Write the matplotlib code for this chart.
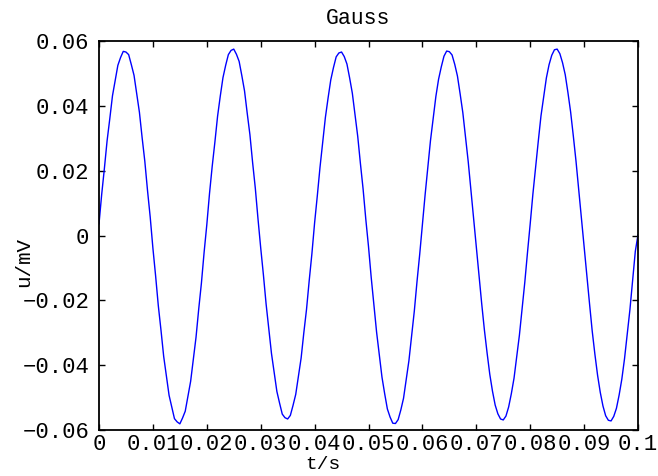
import numpy as np
import matplotlib
matplotlib.use("Agg")
import matplotlib.pyplot as plt

t_start = 0.0
t_step = 0.0005
u = [
    0.0036, 0.0127, 0.0207, 0.0292, 0.0360, 0.0431, 0.0479, 0.0525, 0.0549, 0.0568,
    0.0566, 0.0558, 0.0527, 0.0494, 0.0436, 0.0380, 0.0302, 0.0229, 0.0139, 0.0057,
    -0.0039, -0.0124, -0.0216, -0.0292, -0.0373, -0.0432, -0.0493, -0.0529, -0.0565, -0.0575,
    -0.0581, -0.0563, -0.0542, -0.0496, -0.0450, -0.0381, -0.0314, -0.0227, -0.0147, -0.0052,
    0.0033, 0.0129, 0.0213, 0.0288, 0.0368, 0.0430, 0.0487, 0.0525, 0.0558, 0.0571,
    0.0575, 0.0559, 0.0537, 0.0493, 0.0446, 0.0377, 0.0311, 0.0225, 0.0146, 0.0051,
    -0.0038, -0.0121, -0.0211, -0.0286, -0.0364, -0.0422, -0.0481, -0.0517, -0.0551, -0.0562,
    -0.0566, -0.0555, -0.0524, -0.0490, -0.0434, -0.0378, -0.0300, -0.0228, -0.0139, -0.0056,
    0.0039, 0.0122, 0.0210, 0.0286, 0.0364, 0.0424, 0.0480, 0.0518, 0.0551, 0.0563,
    0.0566, 0.0552, 0.0529, 0.0486, 0.0439, 0.0372, 0.0306, 0.0222, 0.0143, 0.0050,
    -0.0034, -0.0129, -0.0212, -0.0298, -0.0368, -0.0437, -0.0488, -0.0535, -0.0560, -0.0579,
    -0.0580, -0.0568, -0.0538, -0.0502, -0.0445, -0.0386, -0.0309, -0.0233, -0.0142, -0.0058,
    0.0035, 0.0125, 0.0208, 0.0293, 0.0361, 0.0429, 0.0482, 0.0520, 0.0553, 0.0569,
    0.0567, 0.0557, 0.0528, 0.0492, 0.0437, 0.0379, 0.0303, 0.0228, 0.0140, 0.0055,
    -0.0037, -0.0123, -0.0210, -0.0291, -0.0362, -0.0428, -0.0480, -0.0523, -0.0550, -0.0566,
    -0.0569, -0.0557, -0.0529, -0.0488, -0.0440, -0.0374, -0.0307, -0.0224, -0.0144, -0.0052,
    0.0036, 0.0128, 0.0211, 0.0291, 0.0369, 0.0428, 0.0486, 0.0527, 0.0556, 0.0573,
    0.0575, 0.0561, 0.0533, 0.0496, 0.0441, 0.0381, 0.0307, 0.0229, 0.0141, 0.0053,
    -0.0035, -0.0126, -0.0209, -0.0294, -0.0366, -0.0431, -0.0484, -0.0526, -0.0556, -0.0570,
    -0.0572, -0.0558, -0.0533, -0.0492, -0.0443, -0.0380, -0.0304, -0.0229, -0.0139, -0.0049,
    0.0002,
]
t = t_start + t_step * np.arange(len(u))

xticks = [0, 0.01, 0.02, 0.03, 0.04, 0.05, 0.06, 0.07, 0.08, 0.09, 0.1]
xtick_labels = ["0", "0.01", "0.02", "0.03", "0.04", "0.05", "0.06", "0.07", "0.08", "0.09", "0.1"]
yticks = [-0.06, -0.04, -0.02, 0, 0.02, 0.04, 0.06]
ytick_labels = ["\u22120.06", "\u22120.04", "\u22120.02", "0", "0.02", "0.04", "0.06"]

plt.rcParams["font.family"] = ["Liberation Mono", "DejaVu Sans Mono"]

fig = plt.figure(figsize=(6.58, 4.76), dpi=100)
ax = fig.add_axes([99 / 658, 1 - 430 / 476, 539 / 658, 389 / 476])

ax.plot(t, u, color="#0000ff", linewidth=1.0)

ax.set_xlim(0, 0.1)
ax.set_ylim(-0.06, 0.06)
ax.set_xticks(xticks)
ax.set_xticklabels(xtick_labels)
ax.set_yticks(yticks)
ax.set_yticklabels(ytick_labels)
ax.tick_params(direction="in", length=4, width=1, top=True, right=True,
               labelsize=16, pad=3, colors="black")
ax.tick_params(axis="y", pad=7)
for s in ax.spines.values():
    s.set_linewidth(1.3)

# label spots (slightly off-centre)
ax.set_xlabel("t/s", fontsize=14, va="baseline")
ax.xaxis.set_label_coords(0.4156, -0.1015)
ax.set_ylabel("u/mV", fontsize=15, va="center", ha="center")
ax.yaxis.set_label_coords(-0.139, 0.432)
ax.text(0.48, 1.0566, "Gauss", transform=ax.transAxes, fontsize=15.5,
        ha="center", va="center")

fig.savefig("out.png", dpi=100)
